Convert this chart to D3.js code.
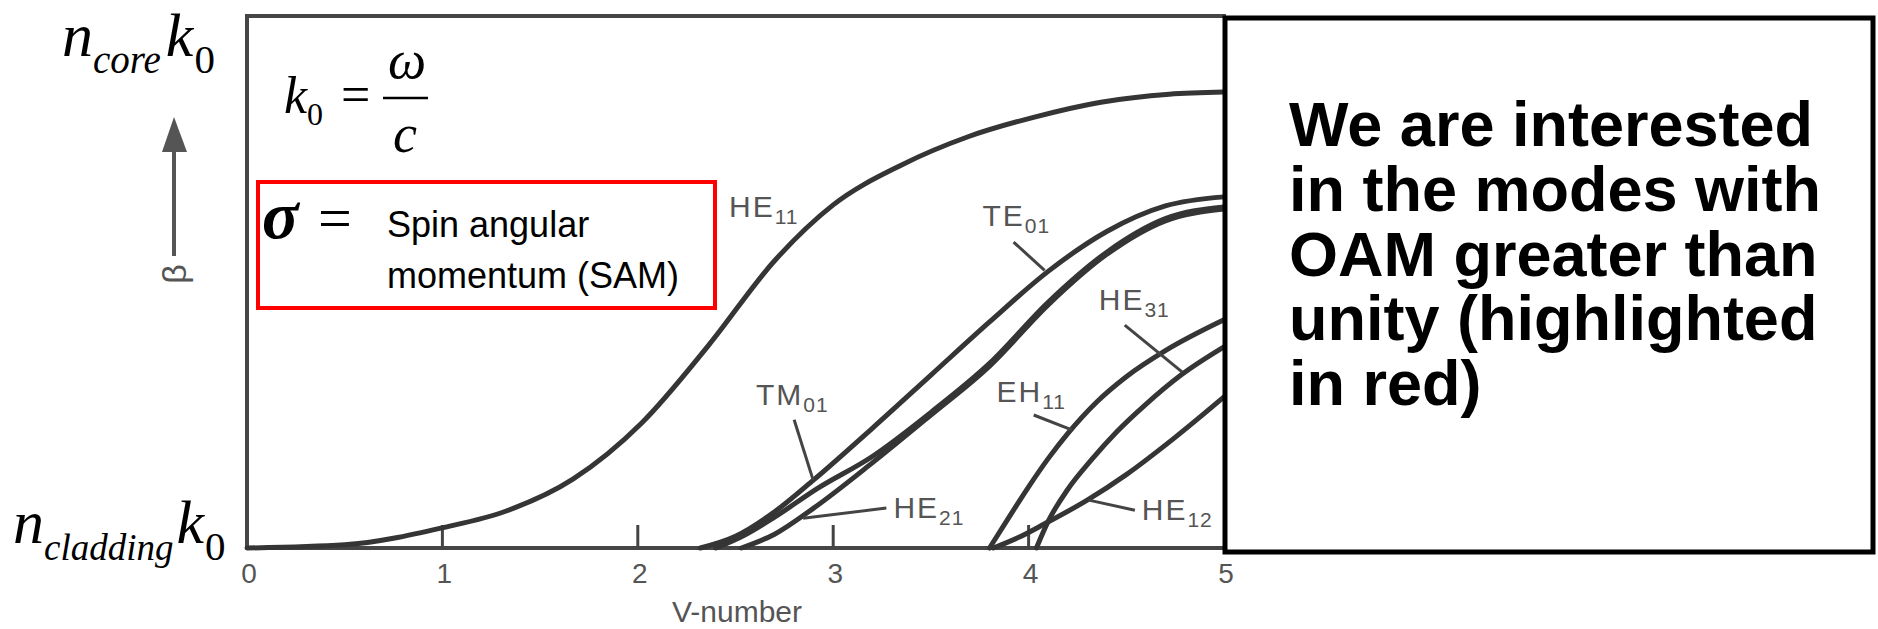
<!DOCTYPE html>
<meta charset="utf-8">
<script src="https://d3js.org/d3.v7.min.js"></script>
<style type="text/css">
body { margin: 0; background: #fff; }
.mode {
    fill: none;
    stroke: #353535;
    stroke-width: 5;
    stroke-linecap: round;
}
.frame {
    fill: none;
    stroke: #464646;
    stroke-width: 4;
}
.lbl {
    fill: #555;
    font-family: "Liberation Sans", Arial, sans-serif;
}
.ptr {
    stroke: #444;
    stroke-width: 3;
}
.serif {
    font-family: "Liberation Serif", "Times New Roman", serif;
    fill: #000;
}
</style>
<body>
</body>
<script>
// V-number axis
var vTicks = [0, 1, 2, 3, 4, 5];

// normalised beta (0 = n_cladding k0, 1 = n_core k0), as [V, b]
var HE11 = [[0, 0], [0.5, 0.006], [1.0, 0.038], [1.33, 0.07], [1.67, 0.13], [2.02, 0.235],
            [2.36, 0.38], [2.7, 0.54], [3.0, 0.645], [3.35, 0.72], [3.69, 0.773],
            [4.03, 0.81], [4.37, 0.838], [4.72, 0.853], [5.0, 0.857]];
var TE01 = [[2.32, 0], [2.5, 0.022], [2.7, 0.068], [2.9, 0.128], [3.2, 0.225], [3.5, 0.325],
            [3.8, 0.425], [4.1, 0.52], [4.4, 0.595], [4.7, 0.643], [5.0, 0.66]];
var TM01 = [[2.40, 0], [2.55, 0.025], [2.7, 0.058], [2.92, 0.112], [3.2, 0.172], [3.5, 0.255],
            [3.8, 0.347], [4.1, 0.462], [4.4, 0.556], [4.7, 0.619], [5.0, 0.641]];
var HE21 = [[2.53, 0], [2.7, 0.026], [2.9, 0.075], [3.2, 0.16], [3.5, 0.25], [3.8, 0.342],
            [4.1, 0.457], [4.4, 0.552], [4.7, 0.615], [5.0, 0.637]];
var EH11 = [[3.80, 0], [3.9, 0.058], [4.0, 0.115], [4.1, 0.168], [4.2, 0.215], [4.35, 0.275],
            [4.5, 0.322], [4.7, 0.371], [5.0, 0.429]];
var HE31 = [[4.04, 0], [4.1, 0.05], [4.2, 0.11], [4.32, 0.165], [4.45, 0.218], [4.6, 0.27],
            [4.78, 0.325], [5.0, 0.378]];
var HE12 = [[3.82, 0], [3.95, 0.02], [4.08, 0.045], [4.3, 0.09], [4.5, 0.138], [4.75, 0.208],
            [5.0, 0.284]];

var modeNames = ["HE11", "TE01", "TM01", "HE21", "EH11", "HE31", "HE12"];
var modeCurves = [HE11, TE01, TM01, HE21, EH11, HE31, HE12];

var noteLines = ["We are interested", "in the modes with", "OAM greater than",
                 "unity (highlighted", "in red)"];
var samLines = ["Spin angular", "momentum (SAM)"];

var W = 1878, H = 629;

var xScale = d3.scaleLinear().domain([0, 5]).range([247, 1224]);
var yScale = d3.scaleLinear().domain([0, 1]).range([548, 16]);

var svg = d3.select("body").append("svg")
    .attr("width", W)
    .attr("height", H);

// frame of the plot (left, top) and the V axis
svg.append("path")
    .attr("class", "frame")
    .attr("d", "M" + xScale(0) + "," + yScale(0) + "V" + yScale(1) + "H" + (xScale(5) + 2));
svg.append("line")
    .attr("class", "frame")
    .attr("x1", xScale(0)).attr("x2", xScale(5))
    .attr("y1", yScale(0)).attr("y2", yScale(0));

// inward ticks
svg.selectAll(".tick").data(vTicks.slice(1, 5))
  .enter().append("line")
    .attr("class", "ptr")
    .attr("x1", function(d) { return xScale(d); })
    .attr("x2", function(d) { return xScale(d); })
    .attr("y1", yScale(0))
    .attr("y2", yScale(0) - 23);

svg.selectAll(".ticklbl").data(vTicks)
  .enter().append("text")
    .attr("class", "lbl")
    .attr("x", function(d) { return xScale(d) + 2; })
    .attr("y", 583)
    .attr("text-anchor", "middle")
    .attr("font-size", 28)
    .text(function(d) { return d; });

svg.append("text")
    .attr("class", "lbl")
    .attr("x", 737).attr("y", 622)
    .attr("text-anchor", "middle")
    .attr("font-size", 30)
    .text("V-number");

// mode curves
var line = d3.line()
    .x(function(d) { return xScale(d[0]); })
    .y(function(d) { return yScale(d[1]); })
    .curve(d3.curveMonotoneX);

svg.selectAll(".mode").data(modeCurves)
  .enter().append("path")
    .attr("class", "mode")
    .attr("d", line);

// mode labels: text anchor and leader line, in data units
var labelPos = {
  HE11: {at: [2.467, 0.622]},
  TE01: {at: [3.764, 0.605], from: [3.923, 0.575], to: [4.082, 0.522]},
  TM01: {at: [2.605, 0.269], from: [2.80, 0.241], to: [2.897, 0.128]},
  HE21: {at: [3.308, 0.056], from: [3.272, 0.075], to: [2.846, 0.056]},
  EH11: {at: [3.836, 0.274], from: [4.026, 0.25], to: [4.221, 0.222]},
  HE31: {at: [4.359, 0.447], from: [4.492, 0.419], to: [4.785, 0.331]},
  HE12: {at: [4.579, 0.053], from: [4.544, 0.071], to: [4.308, 0.09]}
};

modeNames.forEach(function(name) {
  var p = labelPos[name];
  var t = svg.append("text")
      .attr("class", "lbl")
      .attr("x", xScale(p.at[0]))
      .attr("y", yScale(p.at[1]))
      .attr("font-size", 30)
      .attr("letter-spacing", 2);
  t.append("tspan").text(name.slice(0, 2));
  t.append("tspan").attr("font-size", 21).attr("dy", 7).attr("letter-spacing", 1).text(name.slice(2));
  if (p.from) {
    svg.append("line")
        .attr("class", "ptr")
        .attr("x1", xScale(p.from[0])).attr("y1", yScale(p.from[1]))
        .attr("x2", xScale(p.to[0])).attr("y2", yScale(p.to[1]));
  }
});

// beta arrow
svg.append("line")
    .attr("x1", 174).attr("x2", 174).attr("y1", 256).attr("y2", 148)
    .attr("stroke", "#555").attr("stroke-width", 4);
svg.append("path")
    .attr("d", "M174,117L162,152L187,152Z")
    .attr("fill", "#555");
svg.append("text")
    .attr("class", "lbl")
    .attr("transform", "translate(186,274) rotate(-90)")
    .attr("text-anchor", "middle")
    .attr("font-size", 34)
    .text("\u03b2");

// n_core k0 and n_cladding k0
function nk(sub, x, y, subSize, kGap) {
  var t = svg.append("text").attr("class", "serif").attr("x", x).attr("y", y)
      .attr("font-size", 62).attr("font-style", "italic");
  t.append("tspan").text("n");
  t.append("tspan").attr("font-size", subSize).attr("dy", 17).text(sub);
  t.append("tspan").attr("dy", -17).attr("dx", kGap).text("k");
  t.append("tspan").attr("font-size", 41).attr("font-style", "normal").attr("dy", 17).attr("dx", 1).text("0");
}
nk("core", 62, 56, 39, 5);
nk("cladding", 13, 543, 37, 3);

// k0 = omega / c
var k0 = svg.append("text").attr("class", "serif").attr("x", 284).attr("y", 113)
    .attr("font-size", 52).attr("font-style", "italic");
k0.append("tspan").text("k");
k0.append("tspan").attr("font-size", 32).attr("font-style", "normal").attr("dy", 12).text("0");
svg.append("text").attr("class", "serif").attr("x", 341).attr("y", 112)
    .attr("font-size", 52).text("=");
svg.append("line").attr("x1", 383).attr("x2", 428).attr("y1", 98).attr("y2", 98)
    .attr("stroke", "#000").attr("stroke-width", 2.5);
svg.append("text").attr("class", "serif").attr("x", 407).attr("y", 78)
    .attr("text-anchor", "middle").attr("font-size", 54).attr("font-style", "italic").text("\u03c9");
svg.append("text").attr("class", "serif").attr("x", 405).attr("y", 152)
    .attr("text-anchor", "middle").attr("font-size", 54).attr("font-style", "italic").text("c");

// red SAM box
svg.append("rect")
    .attr("x", 258).attr("y", 182).attr("width", 457).attr("height", 126)
    .attr("fill", "#fff").attr("stroke", "#ff0000").attr("stroke-width", 4);
svg.append("text").attr("class", "serif").attr("x", 262).attr("y", 238)
    .attr("font-size", 68).attr("font-style", "italic").attr("font-weight", "bold").text("\u03c3");
svg.append("text").attr("class", "serif").attr("x", 318).attr("y", 238)
    .attr("font-size", 60).text("=");
svg.selectAll(".sam").data(samLines)
  .enter().append("text")
    .attr("x", 387)
    .attr("y", function(d, i) { return 237 + i * 51; })
    .attr("font-family", "'Liberation Sans', Arial, sans-serif")
    .attr("font-size", 36)
    .attr("fill", "#000")
    .text(function(d) { return d; });

// note box on the right
svg.append("rect")
    .attr("x", 1225).attr("y", 18).attr("width", 648).attr("height", 534)
    .attr("fill", "#fff").attr("stroke", "#000").attr("stroke-width", 5);
svg.selectAll(".note").data(noteLines)
  .enter().append("text")
    .attr("x", 1289)
    .attr("y", function(d, i) { return 146 + i * 64.8; })
    .attr("font-family", "'Liberation Sans', Arial, sans-serif")
    .attr("font-weight", "bold")
    .attr("font-size", 63)
    .attr("fill", "#000")
    .text(function(d) { return d; });
</script>
